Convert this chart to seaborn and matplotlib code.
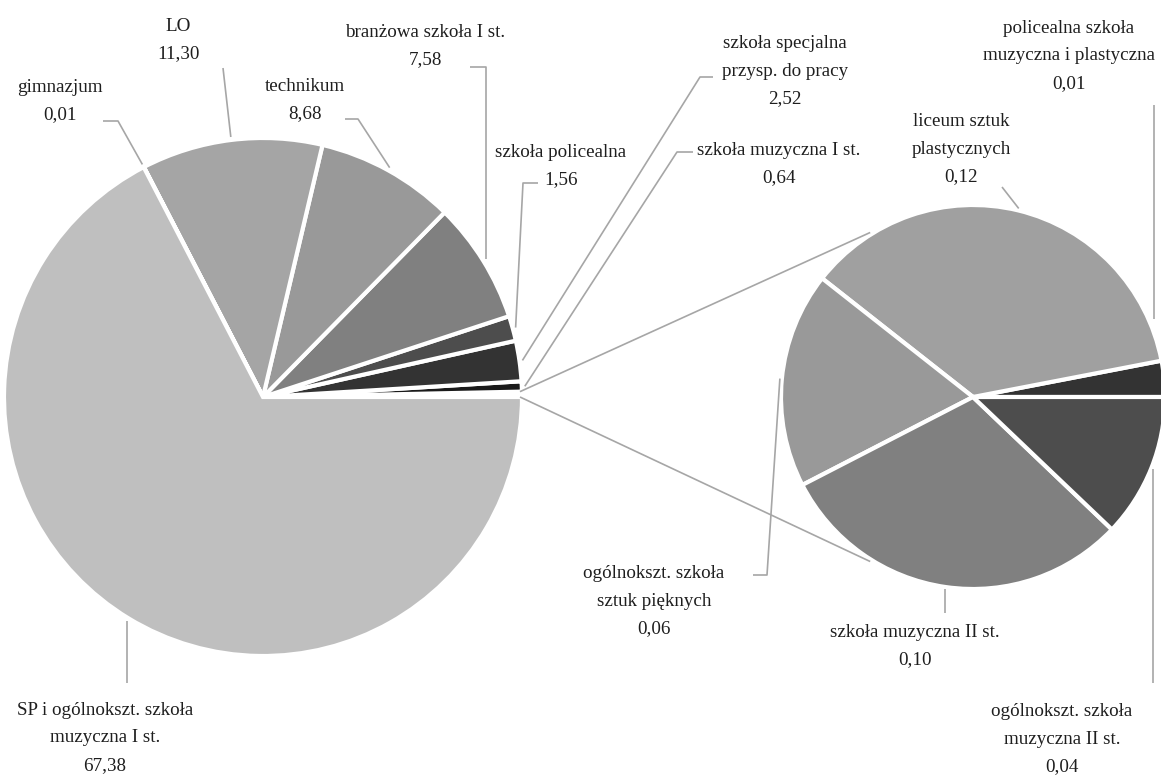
import numpy as np
import matplotlib
matplotlib.use("Agg")
import matplotlib.pyplot as plt
import seaborn as sns

# dane (udział procentowy)
main_labels = ["SP i ogólnokszt. szkoła\nmuzyczna I st.", "gimnazjum", "LO", "technikum",
               "branżowa szkoła I st.", "szkoła policealna",
               "szkoła specjalna\nprzysp. do pracy", "szkoła muzyczna I st."]
main_values = [67.38, 0.01, 11.30, 8.68, 7.58, 1.56, 2.52, 0.64]
main_colors = ["#bfbfbf", "#b2b2b2", "#a5a5a5", "#999999", "#808080", "#4d4d4d", "#333333", "#1a1a1a"]

sub_labels = ["liceum sztuk\nplastycznych", "ogólnokszt. szkoła\nsztuk pięknych",
              "szkoła muzyczna II st.", "ogólnokszt. szkoła\nmuzyczna II st.",
              "policealna szkoła\nmuzyczna i plastyczna"]
sub_values = [0.12, 0.06, 0.10, 0.04, 0.01]
sub_colors = ["#a0a0a0", "#999999", "#808080", "#4d4d4d", "#333333"]

W, H = 1161, 776
sns.set_theme(style="white")
plt.rcParams["font.family"] = ["Liberation Serif", "DejaVu Serif"]

fig = plt.figure(figsize=(W / 100, H / 100), dpi=100)
ax = fig.add_axes([0, 0, 1, 1])


def fmt(v):
    return f"{v:.2f}".replace(".", ",")


def cum_angles(vals):
    c = np.cumsum([0] + list(vals)) / sum(vals) * 360
    return c, (c[:-1] + c[1:]) / 2


def pt(c, r, deg):
    a = np.radians(deg)
    return c[0] + r * np.cos(a), c[1] - r * np.sin(a)


# kolejnosc wycinkow od godziny 3 przeciwnie do wskazowek zegara
other = round(sum(sub_values), 2)
big_vals = [other] + main_values[::-1]
big_cols = ["white"] + main_colors[::-1]
small_vals = sub_values[-1:] + sub_values[:-1]
small_cols = sub_colors[-1:] + sub_colors[:-1]

C1, R1 = (263, 397), 257
C2, R2 = (973, 397), 190
wp = dict(edgecolor="white", linewidth=3)

ax.pie(big_vals, colors=big_cols, startangle=0, counterclock=False,
       center=C1, radius=R1 + 2, wedgeprops=wp)
ax.pie(small_vals, colors=small_cols, startangle=0, counterclock=False,
       center=C2, radius=R2 + 2, wedgeprops=wp)

big_cum, big_mid = cum_angles(big_vals)
small_cum, small_mid = cum_angles(small_vals)

line_kw = dict(color="#a6a6a6", lw=1.2, solid_capstyle="butt", zorder=1)
text_kw = dict(ha="center", va="center", fontsize=13.7, linespacing=1.82, color="#1e1e1e")

# linie laczace
for a_big, a_small in [(big_cum[1], 122), (0, 238)]:
    p1 = pt(C1, R1, a_big)
    p2 = pt(C2, R2 + 4, a_small)
    ax.plot([p1[0], p2[0]], [p1[1], p2[1]], **line_kw)

# etykiety: (x, y, punkty linii odniesienia)
main_layout = [
    (105, 738, [(None, 683)]),
    (60, 101, [(103, 121), (118, 121)]),
    (178, 40, [(223, 68)]),
    (305, 100, [(345, 119), (358, 119)]),
    (425, 46, [(470, 67), (None, 67)]),
    (561, 166, [(538, 183), (523, 183)]),
    (785, 71, [(713, 77), (700, 77)]),
    (779, 164, [(693, 152), (677, 152)]),
]
for i, (lab, val) in enumerate(zip(main_labels, main_values)):
    x, y, knees = main_layout[i]
    ax.text(x, y, f"{lab}\n{fmt(val)}", **text_kw)
    end = pt(C1, R1 + 5, big_mid[len(main_values) - i])
    pts = [(end[0] if kx is None else kx, ky) for kx, ky in knees] + [end]
    ax.plot([p[0] for p in pts], [p[1] for p in pts], **line_kw)

sub_layout = [
    (961, 149, [(1002, 187)]),
    (654, 601, [(753, 575), (767, 575)]),
    (915, 646, [(None, 613)]),
    (1062, 739, [(None, 683)]),
    (1069, 56, [(1154, 105)]),
]
for i, (lab, val) in enumerate(zip(sub_labels, sub_values)):
    x, y, knees = sub_layout[i]
    ax.text(x, y, f"{lab}\n{fmt(val)}", **text_kw)
    j = (i + 1) % len(sub_values)
    end = pt(C2, R2 + 4, small_mid[j])
    if i == len(sub_values) - 1:
        kx = knees[0][0]
        end = (kx, C2[1] - np.sqrt((R2 + 7) ** 2 - (kx - C2[0]) ** 2))
    pts = [(end[0] if kx is None else kx, ky) for kx, ky in knees] + [end]
    ax.plot([p[0] for p in pts], [p[1] for p in pts], **line_kw)

ax.set_xlim(0, W)
ax.set_ylim(H, 0)
ax.set_aspect("equal")
ax.axis("off")
fig.savefig("out.png", dpi=100)
